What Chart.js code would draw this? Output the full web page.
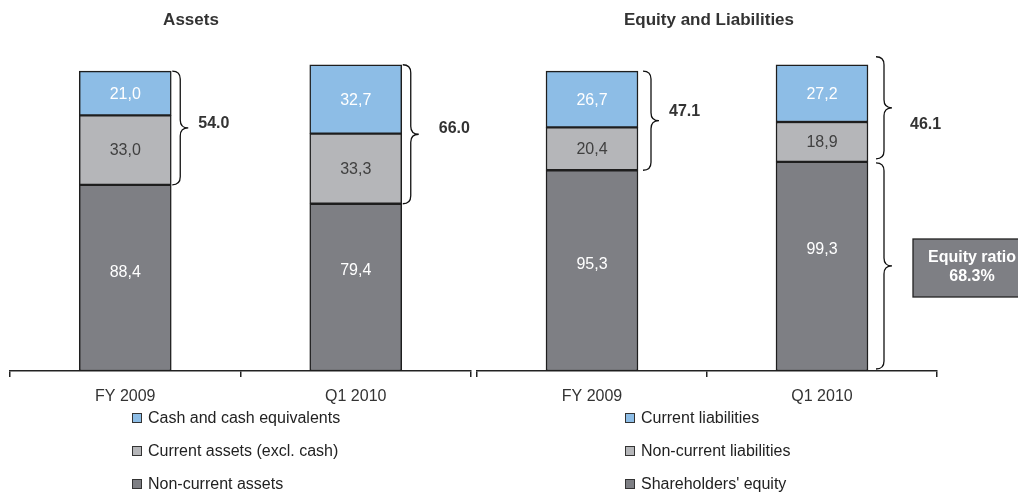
<!DOCTYPE html>
<html>
<head>
<meta charset="utf-8">
<script src="https://cdn.jsdelivr.net/npm/chart.js@4/dist/chart.umd.min.js"></script>
<style>
  body { margin: 0; background: #fff; font-family: "Liberation Sans", Arial, sans-serif; }
  #wrap { position: relative; width: 1018px; height: 494px; overflow: hidden; }
  canvas { position: absolute; top: 0; }
  #assetsChart { left: 0; }
  #equityChart { left: 475px; }
  .legend { position: absolute; top: 408px; }
  .legend .item { height: 20px; margin-bottom: 13px; display: flex; align-items: center; font-size: 16px; color: #222; white-space: nowrap; }
  .legend .box { width: 8px; height: 8px; border: 1px solid #333; margin-right: 6px; }
</style>
</head>
<body>
<div id="wrap">
  <canvas id="assetsChart" width="477" height="494"></canvas>
  <canvas id="equityChart" width="543" height="494"></canvas>
  <div class="legend" id="assetsLegend" style="left:132px"></div>
  <div class="legend" id="equityLegend" style="left:625px"></div>
</div>
<script>
const periods = ["FY 2009", "Q1 2010"];

const nonCurrentAssets = [88.4, 79.4];
const currentAssets = [33.0, 33.3];
const cashEquivalents = [21.0, 32.7];

const shareholdersEquity = [95.3, 99.3];
const nonCurrentLiabilities = [20.4, 18.9];
const currentLiabilities = [26.7, 27.2];

const assetLabels = ["Non-current assets", "Current assets (excl. cash)", "Cash and cash equivalents"];
const equityLabels = ["Shareholders' equity", "Non-current liabilities", "Current liabilities"];

const colors = ["#7e7f84", "#b5b6b9", "#8dbde6"];
const valueColors = ["#ffffff", "#404040", "#ffffff"];
const FONT = "'Liberation Sans', Arial, sans-serif";

Chart.defaults.font.family = FONT;
Chart.defaults.animation = false;

function fmt(v) {
  return v.toFixed(1).replace(".", ",");
}

function brace(ctx, x, yTop, yBot, w) {
  const mid = (yTop + yBot) / 2;
  const r = Math.min(8, (yBot - yTop) / 4);
  const xm = x + w / 2;
  ctx.beginPath();
  ctx.moveTo(x, yTop);
  ctx.quadraticCurveTo(xm, yTop, xm, yTop + r);
  ctx.lineTo(xm, mid - r);
  ctx.quadraticCurveTo(xm, mid, x + w, mid);
  ctx.quadraticCurveTo(xm, mid, xm, mid + r);
  ctx.lineTo(xm, yBot - r);
  ctx.quadraticCurveTo(xm, yBot, x, yBot);
  ctx.strokeStyle = "#111";
  ctx.lineWidth = 1.3;
  ctx.stroke();
}

// values inside bars, title, braces with totals
const decorations = {
  id: "decorations",
  afterDatasetsDraw(chart, args, opts) {
    const ctx = chart.ctx;
    ctx.save();
    ctx.textAlign = "center";
    ctx.textBaseline = "middle";
    ctx.font = "16px " + FONT;
    chart.data.datasets.forEach((ds, i) => {
      chart.getDatasetMeta(i).data.forEach((bar, j) => {
        const nudge = i === 0 ? opts.baseNudge[j] : 0;
        ctx.fillStyle = valueColors[i];
        ctx.fillText(fmt(ds.data[j]), bar.x, (bar.y + bar.base) / 2 + 1 + nudge);
      });
    });

    ctx.fillStyle = "#333";
    ctx.font = "bold 17px " + FONT;
    ctx.fillText(opts.title, opts.titleX, 20);

    const top = chart.getDatasetMeta(2).data;
    const midMeta = chart.getDatasetMeta(1).data;
    const low = chart.getDatasetMeta(0).data;
    top.forEach((bar, j) => {
      const x = bar.x + bar.width / 2 + opts.braceGap[j];
      const yTop = bar.y - opts.braceLift[j];
      const yBot = midMeta[j].base - opts.braceDrop[j];
      brace(ctx, x, yTop, yBot, 16);
      const total = chart.data.datasets[1].data[j] + chart.data.datasets[2].data[j];
      ctx.fillStyle = "#333";
      ctx.font = "bold 16px " + FONT;
      ctx.textAlign = "left";
      ctx.fillText(total.toFixed(1), x + 16 + opts.labelGap[j], (yTop + yBot) / 2 + opts.labelDy[j]);
    });

    if (opts.ratio) {
      const j = 1;
      const bar = low[j];
      const x = bar.x + bar.width / 2 + opts.braceGap[j];
      brace(ctx, x, bar.y + 1, bar.base - 2, 16);
      const sum = chart.data.datasets.reduce((s, d) => s + d.data[j], 0);
      const ratio = chart.data.datasets[0].data[j] / sum * 100;
      const bx = x + 37, by = 239;
      ctx.fillStyle = colors[0];
      ctx.fillRect(bx, by, 118, 58);
      ctx.strokeStyle = "#222";
      ctx.lineWidth = 1.3;
      ctx.strokeRect(bx, by, 118, 58);
      ctx.fillStyle = "#ffffff";
      ctx.textAlign = "center";
      ctx.font = "bold 16px " + FONT;
      ctx.fillText("Equity ratio", bx + 59, by + 19);
      ctx.fillText(ratio.toFixed(1) + "%", bx + 59, by + 38);
    }
    ctx.restore();
  }
};

function makeChart(id, labels, series, padLeft, padRight, deco) {
  return new Chart(id, {
    type: "bar",
    data: {
      labels: periods,
      datasets: series.map((data, i) => ({
        label: labels[i],
        data: data,
        backgroundColor: colors[i],
        borderColor: "#1e1e1e",
        borderWidth: 1.5,
        borderSkipped: false,
        barThickness: 92,
      })),
    },
    options: {
      responsive: false,
      layout: { padding: { top: 34, bottom: 83, left: padLeft, right: padRight } },
      plugins: {
        legend: { display: false },
        tooltip: { enabled: false },
        decorations: deco,
      },
      scales: {
        x: {
          stacked: true,
          afterFit: (s) => { s.height = 40; },
          grid: {
            offset: true,
            drawOnChartArea: false,
            tickLength: 6,
            color: "#222",
            lineWidth: 1.5,
          },
          border: { display: true, color: "#222", width: 1.5 },
          ticks: { color: "#333", padding: 10, font: { size: 16 } },
        },
        y: {
          stacked: true,
          display: false,
          min: 0,
          max: 160,
        },
      },
    },
    plugins: [decorations],
  });
}

makeChart("assetsChart", assetLabels, [nonCurrentAssets, currentAssets, cashEquivalents], 10, 6, {
  title: "Assets",
  titleX: 191,
  baseNudge: [-6, -18],
  braceGap: [1, 1],
  braceLift: [0, 0],
  braceDrop: [0, 0],
  labelGap: [10, 20],
  labelDy: [-4, -6],
  ratio: false,
});

makeChart("equityChart", equityLabels, [shareholdersEquity, nonCurrentLiabilities, currentLiabilities], 2, 81, {
  title: "Equity and Liabilities",
  titleX: 234,
  baseNudge: [-7, -18],
  braceGap: [5, 8],
  braceLift: [0, 8],
  braceDrop: [0, 3],
  labelGap: [10, 18],
  labelDy: [-9, 17],
  ratio: true,
});

function buildLegend(elId, labels) {
  const el = document.getElementById(elId);
  for (let i = labels.length - 1; i >= 0; i--) {
    const item = document.createElement("div");
    item.className = "item";
    const box = document.createElement("span");
    box.className = "box";
    box.style.background = colors[i];
    item.appendChild(box);
    item.appendChild(document.createTextNode(labels[i]));
    el.appendChild(item);
  }
}
buildLegend("assetsLegend", assetLabels);
buildLegend("equityLegend", equityLabels);
</script>
</body>
</html>
